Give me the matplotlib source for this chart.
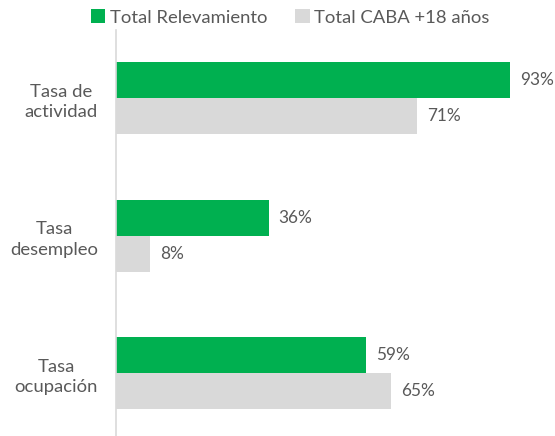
import matplotlib.pyplot as plt
import numpy as np

categorias = ["Tasa de\nactividad", "Tasa\ndesempleo", "Tasa\nocupación"]
relevamiento = [93, 36, 59]
caba = [71, 8, 65]
series = ["Total Relevamiento", "Total CABA +18 años"]

verde = "#00B050"
gris = "#D9D9D9"
texto = "#595959"

plt.rcParams['font.family'] = ['Lato', 'DejaVu Sans']
fs = 13.3

fig = plt.figure(figsize=(5.55, 4.36), dpi=100)
ax = fig.add_axes([0.209, 0.0, 0.791, 0.931])

y = np.arange(len(categorias))
h = 0.262
b1 = ax.barh(y - h / 2, relevamiento, height=h, color=verde, label=series[0])
b2 = ax.barh(y + h / 2, caba, height=h, color=gris, label=series[1])

for bars, vals in [(b1, relevamiento), (b2, caba)]:
    for bar, v in zip(bars, vals):
        ax.text(v + 2.4, bar.get_y() + bar.get_height() / 2, f"{v}%",
                va="center", ha="left", fontsize=12.4, color=texto)

ax.set_xlim(0, 103.6)
ax.set_ylim(2.458, -0.495)
ax.set_xticks([])
ax.set_yticks(y)
ax.set_yticklabels(categorias, multialignment="center", fontsize=fs,
                   color=texto, linespacing=1.35)
ax.tick_params(axis="y", length=0, pad=13)

for s in ["top", "right", "bottom"]:
    ax.spines[s].set_visible(False)
ax.spines["left"].set_color(gris)
ax.spines["left"].set_linewidth(1.2)

fig.legend(loc="center", bbox_to_anchor=(0.523, 0.96), ncol=2, frameon=False,
           fontsize=fs, handlelength=0.78, handleheight=0.78, handletextpad=0.25,
           columnspacing=1.5, labelcolor=texto)

plt.savefig("out.png", dpi=100)
